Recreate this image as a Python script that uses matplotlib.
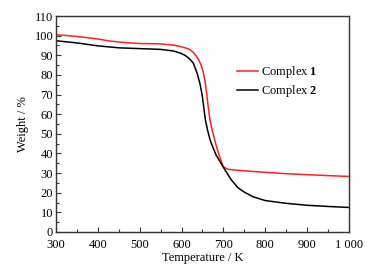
import matplotlib
matplotlib.use("Agg")
import matplotlib.pyplot as plt
from matplotlib.ticker import MultipleLocator

plt.rcParams["font.family"] = ["Liberation Serif", "DejaVu Serif"]
plt.rcParams["mathtext.fontset"] = "custom"
plt.rcParams["mathtext.rm"] = "Liberation Serif"
plt.rcParams["mathtext.bf"] = "Liberation Serif:bold"

# TG curves
temp1 = [300, 350, 400, 430, 470, 500, 550, 580, 596, 610, 620, 628, 636, 642,
         648, 652, 656, 660, 664, 668, 673, 679, 684, 690, 699, 705, 712, 730,
         760, 800, 850, 900, 950, 1000]
weight1 = [100.5, 99.6, 98.3, 97.2, 96.4, 96.0, 95.8, 95.2, 94.5, 93.7, 92.9, 91.5,
           89.4, 87.2, 84.3, 81.2, 77.0, 70.5, 63, 57, 52, 47, 43, 39, 33.5,
           32.5, 31.9, 31.5, 31.0, 30.4, 29.7, 29.2, 28.7, 28.3]

temp2 = [300, 350, 400, 450, 500, 550, 580, 596, 606, 612, 620, 628, 637, 644,
         649, 653, 657, 662, 668, 675, 683, 699, 710, 719, 735, 750, 770, 800,
         850, 900, 950, 1000]
weight2 = [97.4, 96.3, 94.8, 93.8, 93.4, 93.0, 92.2, 91.2, 90.2, 89.4, 88.0, 86.0,
           81.0, 75.5, 70, 63.5, 57, 52, 47, 43, 39, 33.3, 29.5, 26.5, 22.5, 20.3,
           18, 16, 14.6, 13.6, 13.0, 12.5]

xticks = [300, 400, 500, 600, 700, 800, 900, 1000]
xticklabels = ["300", "400", "500", "600", "700", "800", "900", "1 000"]

fig = plt.figure(figsize=(3.87, 2.77), dpi=100)
ax = fig.add_axes([0.1447, 0.1625, 0.7571, 0.7797])

ax.plot(temp1, weight1, color="#ff2020", lw=1.1, label=r"Complex $\mathbf{1}$")
ax.plot(temp2, weight2, color="black", lw=1.1, label=r"Complex $\mathbf{2}$")

ax.set_xlim(300, 1000)
ax.set_ylim(0, 110)
ax.set_xticks(xticks)
ax.set_xticklabels(xticklabels)
ax.set_yticks(range(0, 111, 10))
ax.xaxis.set_minor_locator(MultipleLocator(50))
ax.yaxis.set_minor_locator(MultipleLocator(5))
ax.tick_params(which="both", direction="in", top=False, right=False,
               labelsize=9, width=0.8, colors="#333333", labelcolor="black")
ax.tick_params(axis="x", pad=5)
ax.tick_params(axis="y", pad=2)
ax.tick_params(which="major", length=3.5)
ax.tick_params(which="minor", length=2)
for s in ax.spines.values():
    s.set_linewidth(1.0)
    s.set_color("#333333")

ax.set_xlabel("Temperature / K", fontsize=9, labelpad=1)
ax.set_ylabel("Weight / %", fontsize=9, labelpad=4)

ax.legend(loc="upper left", bbox_to_anchor=(0.6, 0.8), frameon=False, fontsize=9,
          handlelength=1.7, handletextpad=0.2, labelspacing=0.25, borderaxespad=0)

fig.savefig("out.png", dpi=100)
